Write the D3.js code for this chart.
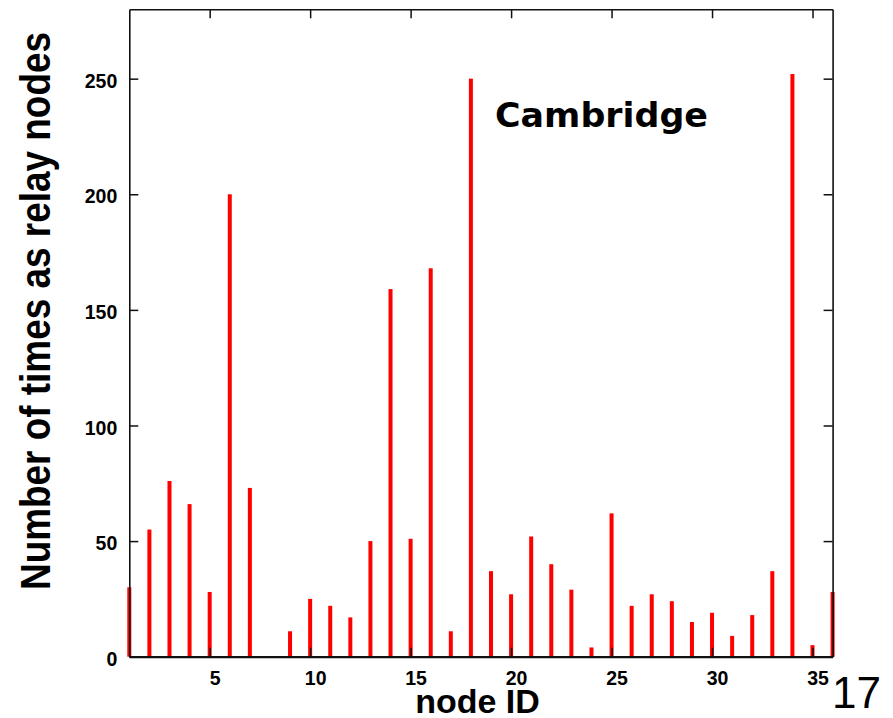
<!DOCTYPE html>
<html>
<head>
<meta charset="utf-8">
<script src="https://cdn.jsdelivr.net/npm/d3@7"></script>
<style>
  html, body { margin: 0; padding: 0; background: #fff; }
  svg { display: block; }
</style>
</head>
<body>
<svg id="chart" width="893" height="718"></svg>
<script>
// Relay-node counts per node ID (Cambridge trace)
const nodeIds = [1,2,3,4,5,6,7,8,9,10,11,12,13,14,15,16,17,18,19,20,21,22,23,24,25,26,27,28,29,30,31,32,33,34,35,36];
const relayCounts = [30,55,76,66,28,200,73,0,11,25,22,17,50,159,51,168,11,250,37,27,52,40,29,4,62,22,27,24,15,19,9,18,37,252,5,28];
const xTicks = [5,10,15,20,25,30,35];
const yTicks = [0,50,100,150,200,250];

const svg = d3.select("#chart");
const plotLeft = 129.3, plotRight = 832.6, plotTop = 9.3, plotBottom = 656.7;

const x = d3.scaleLinear().domain([1, 36]).range([plotLeft, plotRight]);
const y = d3.scaleLinear().domain([0, 280]).range([plotBottom, plotTop]);

const font = "'Liberation Sans', Arial, Helvetica, sans-serif";

// Bars (impulses)
svg.append("g")
  .selectAll("rect")
  .data(nodeIds.map((id, i) => ({ id, v: relayCounts[i] })).filter(d => d.v > 0))
  .join("rect")
  .attr("x", d => x(d.id) - 2)
  .attr("width", 4)
  .attr("y", d => y(d.v))
  .attr("height", d => y(0) - y(d.v))
  .attr("fill", "#ff0000");

function styleAxis(g, width) {
  g.select(".domain").attr("stroke", "#111").attr("stroke-width", width);
  g.selectAll(".tick line").attr("stroke", "#111").attr("stroke-width", 1.5);
}

// Left axis with labels
const gl = svg.append("g").attr("transform", `translate(${plotLeft},0)`)
  .call(d3.axisLeft(y).tickValues(yTicks).tickSizeInner(-9).tickSizeOuter(0).tickPadding(12));
styleAxis(gl, 1.6);
gl.selectAll(".tick text")
  .attr("dy", "0.44em")
  .style("font-family", font).style("font-weight", "bold").style("font-size", "19.5px")
  .attr("fill", "#000");

// Right axis, ticks only
const gr = svg.append("g").attr("transform", `translate(${plotRight},0)`)
  .call(d3.axisRight(y).tickValues(yTicks).tickSizeInner(-9).tickSizeOuter(0).tickFormat(""));
styleAxis(gr, 1.6);

// Top axis, ticks only
const gt = svg.append("g").attr("transform", `translate(0,${plotTop})`)
  .call(d3.axisTop(x).tickValues(xTicks).tickSizeInner(-9).tickSizeOuter(0).tickFormat(""));
styleAxis(gt, 1.6);

// Bottom axis with labels
const gb = svg.append("g").attr("transform", `translate(0,${plotBottom})`)
  .call(d3.axisBottom(x).tickValues(xTicks).tickSizeInner(-9).tickSizeOuter(0).tickPadding(14.5));
styleAxis(gb, 2.2);
gb.selectAll(".tick text")
  .attr("dx", 5)
  .style("font-family", font).style("font-weight", "bold").style("font-size", "19.5px")
  .attr("fill", "#000");

// Axis titles
svg.append("text")
  .attr("transform", `translate(50,311) rotate(-90)`)
  .attr("text-anchor", "middle")
  .attr("textLength", 558)
  .attr("lengthAdjust", "spacingAndGlyphs")
  .style("font-family", font).style("font-weight", "bold").style("font-size", "43px")
  .attr("fill", "#000")
  .text("Number of times as relay nodes");

svg.append("text")
  .attr("x", 477.5).attr("y", 713.3)
  .attr("text-anchor", "middle")
  .style("font-family", font).style("font-weight", "bold").style("font-size", "34px")
  .attr("fill", "#000")
  .text("node ID");

// Dataset label
svg.append("text")
  .attr("x", 495).attr("y", 127.3)
  .attr("textLength", 213)
  .attr("lengthAdjust", "spacingAndGlyphs")
  .style("font-family", "'DejaVu Sans', sans-serif").style("font-weight", "bold").style("font-size", "33px")
  .attr("fill", "#000")
  .text("Cambridge");

// Page number
svg.append("text")
  .attr("x", 832).attr("y", 708.3)
  .style("font-family", font).style("font-size", "44px")
  .attr("fill", "#000")
  .text("17");
</script>
</body>
</html>
